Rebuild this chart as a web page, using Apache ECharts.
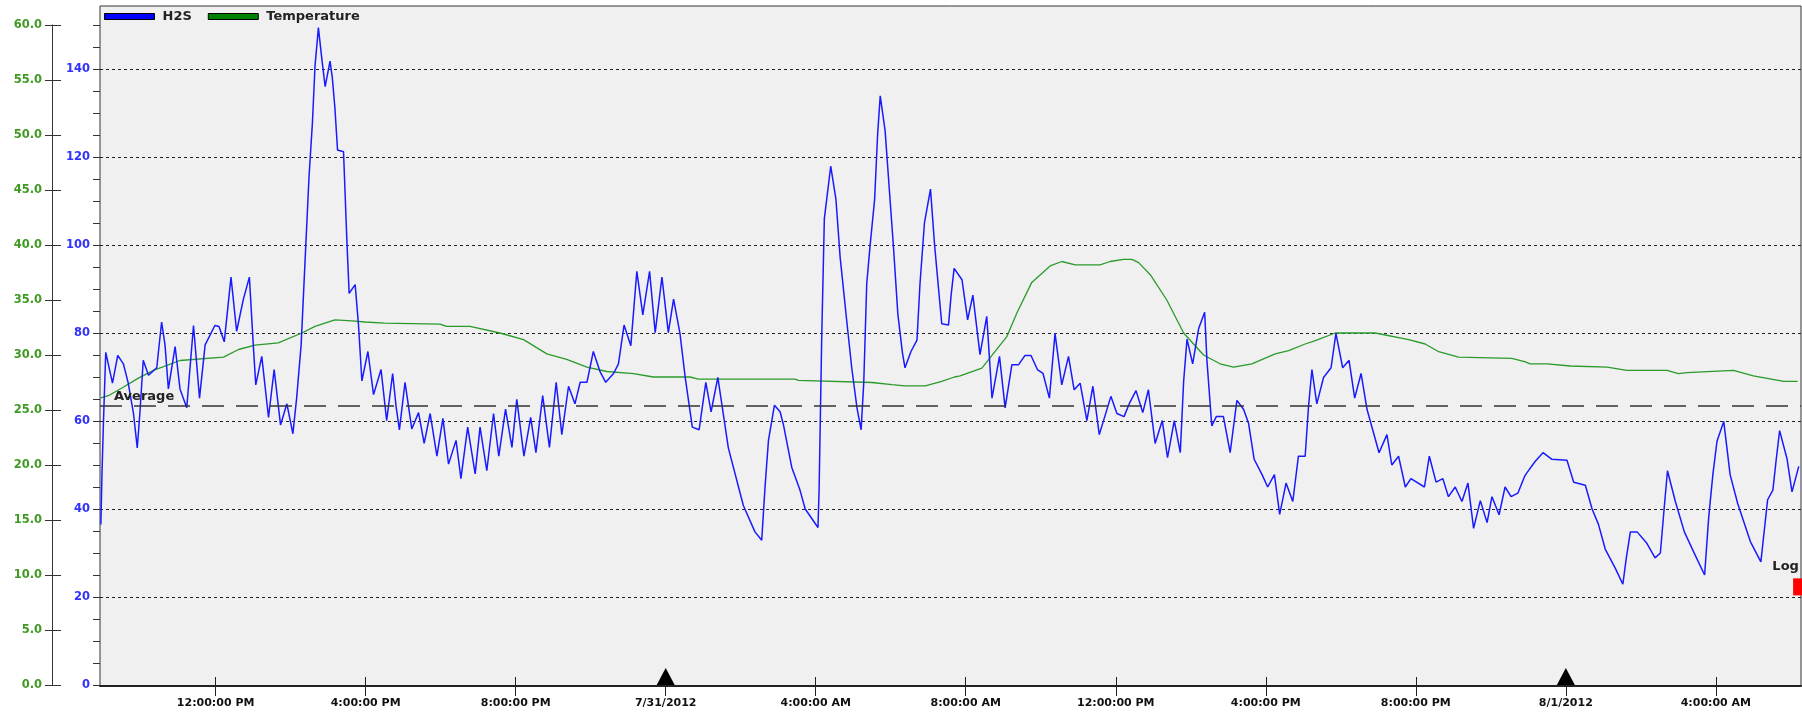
<!DOCTYPE html>
<html>
<head>
<meta charset="utf-8">
<title>H2S / Temperature</title>
<script src="https://cdn.jsdelivr.net/npm/echarts@6/dist/echarts.min.js"></script>
<style>
    html, body { margin: 0; padding: 0; background: #fff; }
    #main { width: 1802px; height: 717px; }
</style>
</head>
<body>
<div id="main"></div>
<script>
// time is in hours counted from 7/30/2012 00:00
var h2sData = [
    [8.94, 36.5], [8.97, 48], [9.01, 60], [9.07, 75.6], [9.25, 68.6], [9.39, 74.9], [9.54, 73], [9.67, 68.6],
    [9.81, 61.7], [9.91, 53.9], [9.98, 61.7], [10.07, 73.8], [10.21, 70.4], [10.43, 72.1], [10.56, 82.5],
    [10.65, 77.3], [10.74, 67.3], [10.92, 76.9], [11.05, 67.3], [11.23, 63.0], [11.41, 81.7], [11.57, 65.2],
    [11.72, 77.3], [11.98, 81.7], [12.09, 81.5], [12.23, 78.0], [12.41, 92.7], [12.56, 80.4], [12.74, 87.7],
    [12.90, 92.7], [13.01, 76.4], [13.07, 68.2], [13.23, 74.7], [13.41, 60.8], [13.56, 71.7], [13.73, 59.1],
    [13.90, 63.9], [14.06, 57.1], [14.16, 65.2], [14.28, 77.3], [14.38, 95.6], [14.49, 115.5], [14.58, 127.7],
    [14.65, 140.7], [14.74, 149.4], [14.83, 142.4], [14.92, 136.0], [15.05, 141.8], [15.11, 138.1], [15.18, 131.2],
    [15.25, 121.6], [15.41, 121.2], [15.50, 100.8], [15.56, 89.0], [15.72, 91.0], [15.81, 81.7], [15.90, 69.1],
    [16.06, 75.8], [16.21, 66.0], [16.41, 71.7],
    [16.56, 60.1], [16.72, 70.8], [16.81, 63.4], [16.90, 58.0], [17.05, 68.8], [17.23, 58.2], [17.41, 61.9],
    [17.56, 54.9], [17.72, 61.7], [17.90, 52.0], [18.06, 60.6], [18.21, 50.2], [18.41, 55.6], [18.54, 46.9],
    [18.72, 58.6], [18.92, 48.0], [19.05, 58.6], [19.23, 48.7], [19.41, 61.7], [19.55, 52.0], [19.73, 62.7],
    [19.90, 54.0], [20.03, 64.9], [20.22, 52.0], [20.40, 60.8], [20.54, 52.8], [20.72, 65.8], [20.90, 54.0],
    [21.08, 68.8], [21.23, 56.9], [21.41, 67.9], [21.58, 63.9], [21.72, 68.8], [21.90, 68.8], [22.07, 75.8],
    [22.25, 71.2], [22.40, 68.8], [22.61, 70.8], [22.74, 73.0], [22.89, 81.8], [23.07, 77.1], [23.23, 94.0],
    [23.39, 84.1], [23.57, 94.0], [23.72, 80.1], [23.90, 92.7], [24.07, 80.1],
    [24.21, 87.7], [24.38, 79.9], [24.52, 69.9], [24.71, 58.6], [24.89, 58.0], [25.07, 68.8], [25.21, 62.1],
    [25.39, 69.9], [25.67, 53.9], [26.07, 40.8], [26.38, 34.8], [26.56, 32.9], [26.65, 45.2], [26.74, 55.6],
    [26.90, 63.6], [27.05, 62.1], [27.14, 59.1], [27.36, 49.5], [27.58, 44.3], [27.72, 40.0], [28.06, 35.8],
    [28.09, 44.3], [28.16, 79.1], [28.23, 106.0], [28.40, 117.9], [28.54, 110.3], [28.65, 97.3], [28.83, 82.5],
    [28.96, 72.1], [29.10, 63.0], [29.21, 58.0], [29.28, 68.6], [29.36, 91.2], [29.45, 99.9], [29.57, 110.3],
    [29.65, 125.1], [29.72, 133.9], [29.85, 126.0], [29.96, 112.9], [30.07, 99.9], [30.19, 84.3], [30.31, 75.6],
    [30.38, 72.1], [30.54, 75.8], [30.70, 78.4], [30.78, 91.2], [30.90, 105.1], [31.06, 112.7], [31.17, 99.9],
    [31.36, 82.1], [31.54, 81.8], [31.61, 88.6], [31.69, 94.7],
    [31.90, 92.1], [32.05, 83.0], [32.19, 88.6], [32.38, 75.1], [32.56, 83.8], [32.70, 65.2], [32.90, 74.7],
    [33.05, 63.0], [33.23, 72.8], [33.41, 72.8], [33.58, 74.9], [33.74, 74.9], [33.91, 71.7], [34.06, 70.8],
    [34.23, 65.2], [34.38, 79.9], [34.56, 68.2], [34.74, 74.7], [34.89, 67.1], [35.05, 68.6], [35.23, 60.1],
    [35.39, 67.9], [35.56, 56.9], [35.87, 65.6], [36.03, 61.7], [36.22, 61.0], [36.38, 64.3], [36.54, 66.9],
    [36.72, 61.9], [36.87, 67.1], [37.05, 54.9], [37.24, 60.1], [37.38, 51.7], [37.56, 60.1], [37.72, 52.8],
    [37.81, 69.1], [37.90, 78.6], [38.05, 73.0], [38.21, 81.0], [38.37, 84.7], [38.43, 73.8], [38.56, 58.9],
    [38.68, 61.0], [38.87, 61.0], [39.05, 52.8], [39.23, 64.7],
    [39.41, 62.6], [39.54, 59.5], [39.69, 51.3], [39.90, 47.8], [40.05, 45.0], [40.23, 47.8], [40.37, 38.8],
    [40.54, 45.9], [40.72, 41.7], [40.87, 52.0], [41.05, 52.0], [41.14, 63.4], [41.23, 71.7], [41.36, 63.9],
    [41.54, 69.9], [41.74, 72.1], [41.87, 79.9], [42.05, 72.1], [42.22, 73.8], [42.37, 65.2], [42.54, 70.8],
    [42.70, 62.6], [43.02, 52.8], [43.23, 56.9], [43.36, 50.0], [43.54, 52.0], [43.72, 45.0], [43.87, 46.9],
    [44.23, 45.0], [44.36, 52.0], [44.54, 46.1], [44.72, 46.9], [44.87, 42.8], [45.05, 45.0], [45.23, 41.7],
    [45.39, 45.9], [45.54, 35.6], [45.72, 41.9], [45.90, 36.9], [46.03, 42.8], [46.22, 38.7], [46.38, 45.0],
    [46.54, 42.8], [46.72, 43.6], [46.90, 47.4],
    [46.96, 48.2], [47.18, 50.8], [47.39, 52.8], [47.63, 51.3], [48.03, 51.1], [48.21, 46.1], [48.52, 45.4],
    [48.70, 40.0], [48.87, 36.5], [49.05, 30.9], [49.32, 26.5], [49.52, 22.9], [49.61, 28.7], [49.72, 34.8],
    [49.90, 34.8], [50.16, 32.2], [50.38, 28.9], [50.52, 30.0], [50.62, 40.0], [50.71, 48.7], [50.92, 41.7],
    [51.16, 34.8], [51.41, 30.2], [51.70, 25.0], [51.81, 38.2], [51.92, 47.8], [52.03, 55.4], [52.21, 59.9],
    [52.38, 47.8], [52.58, 41.3], [52.92, 32.6], [53.20, 28.0], [53.38, 42.1], [53.52, 44.3], [53.61, 51.3],
    [53.70, 57.8], [53.90, 51.3], [54.03, 43.9], [54.21, 49.7]
];

var tempData = [
    [8.94, 26.1], [9.14, 26.3], [9.5, 27.0], [9.94, 27.9], [10.34, 28.6], [11.05, 29.5], [12.21, 29.8],
    [12.61, 30.5], [13.05, 30.9], [13.67, 31.1], [14.3, 32.0], [14.65, 32.6], [15.18, 33.2], [15.63, 33.1],
    [15.98, 33.0], [16.5, 32.9], [17.98, 32.8], [18.16, 32.6], [18.78, 32.6], [19.58, 32.0], [20.21, 31.4],
    [20.83, 30.1], [21.36, 29.6], [21.9, 28.9], [22.43, 28.5], [23.14, 28.3], [23.67, 28.0], [24.65, 28.0],
    [24.87, 27.8], [27.45, 27.8], [27.54, 27.7], [29.5, 27.5], [30.03, 27.3], [30.38, 27.2], [30.92, 27.2],
    [31.36, 27.6], [31.7, 28.0], [31.85, 28.1], [32.43, 28.8], [33.1, 31.7], [33.36, 33.8], [33.76, 36.6],
    [34.25, 38.1], [34.56, 38.5], [34.92, 38.2], [35.58, 38.2], [35.85, 38.5], [36.21, 38.7], [36.43, 38.7],
    [36.61, 38.4], [36.92, 37.3], [37.36, 35.0], [37.81, 32.0], [38.34, 30.0], [38.78, 29.2], [39.14, 28.9],
    [39.63, 29.2], [40.25, 30.1], [40.61, 30.4], [41.05, 31.0], [41.32, 31.3], [41.85, 32.0], [42.92, 32.0],
    [43.81, 31.4], [44.25, 31.0], [44.61, 30.3], [45.14, 29.8], [46.56, 29.7], [46.9, 29.4], [47.05, 29.2],
    [47.5, 29.2], [48.12, 29.0], [49.1, 28.9], [49.63, 28.6], [50.7, 28.6], [51.0, 28.3], [51.23, 28.4],
    [52.47, 28.6], [53.0, 28.1], [53.81, 27.6], [54.18, 27.6]
];

var h2sAverage = 63.4;
var timeStart = 8.917;   // 7/30/2012 ~8:55 AM
var timeEnd = 54.27;     // 8/1/2012 ~6:16 AM
var timeTicks = [12, 16, 20, 24, 28, 32, 36, 40, 44, 48, 52];
var timeLabels = ['12:00:00 PM', '4:00:00 PM', '8:00:00 PM', '7/31/2012', '4:00:00 AM', '8:00:00 AM',
    '12:00:00 PM', '4:00:00 PM', '8:00:00 PM', '8/1/2012', '4:00:00 AM'];
var dayMarks = [24, 48];
var logMark = [54.18, 22.3];

var font = "'DejaVu Sans', Verdana, sans-serif";

function timeLabel(v) {
    for (var i = 0; i < timeTicks.length; i++) {
        if (Math.abs(timeTicks[i] - v) < 1e-6) return timeLabels[i];
    }
    return '';
}

var chart = echarts.init(document.getElementById('main'));

chart.setOption({
    animation: false,
    textStyle: { fontFamily: font },
    legend: {
        data: ['H2S', 'Temperature'],
        left: 104,
        top: 10,
        icon: 'rect',
        itemWidth: 50,
        itemHeight: 6,
        itemGap: 16,
        padding: 0,
        itemStyle: { borderColor: '#000', borderWidth: 1 },
        textStyle: { fontFamily: font, fontWeight: 'bold', fontSize: 13, color: '#222', padding: [0, 0, 0, 3] }
    },
    grid: [
        // plot frame
        { left: 100, right: 1, top: 6, bottom: 31, show: true, backgroundColor: '#f0f0f0', borderColor: '#333', borderWidth: 1 },
        // data area (value axes run from 25 to 685 px)
        { left: 100, right: 1, top: 25, bottom: 32 }
    ],
    xAxis: [
        {
            gridIndex: 0, type: 'value', min: timeStart, max: timeEnd, position: 'bottom',
            axisLine: { lineStyle: { color: '#222', width: 2 } },
            axisTick: { customValues: timeTicks, length: 10, lineStyle: { color: '#222' } },
            axisLabel: {
                customValues: timeTicks, formatter: timeLabel, margin: 12,
                fontFamily: font, fontWeight: 'bold', fontSize: 11, color: '#111'
            },
            splitLine: { show: false }
        },
        {
            // ticks poking up into the plot
            gridIndex: 0, type: 'value', min: timeStart, max: timeEnd, position: 'bottom',
            axisLine: { show: false },
            axisTick: { customValues: timeTicks, inside: true, length: 9, lineStyle: { color: '#222' } },
            axisLabel: { show: false },
            splitLine: { show: false }
        },
        { gridIndex: 1, type: 'value', min: timeStart, max: timeEnd, show: false }
    ],
    yAxis: [
        { gridIndex: 0, type: 'value', min: 0, max: 1, show: false },
        {
            // H2S
            gridIndex: 1, type: 'value', min: 0, max: 150, interval: 5, position: 'left',
            axisLine: { show: false },
            axisTick: { show: true, length: 7, lineStyle: { color: '#333' } },
            axisLabel: {
                formatter: function (v) { return v % 20 === 0 ? String(v) : ''; },
                margin: 10, fontFamily: font, fontWeight: 'bold', fontSize: 11.5, color: '#3030ff'
            },
            splitLine: { show: false }
        },
        {
            // dashed grid lines every 20 ppm
            gridIndex: 1, type: 'value', min: 0, max: 150, interval: 20, position: 'left',
            axisLine: { show: false }, axisTick: { show: false }, axisLabel: { show: false },
            splitLine: {
                show: true, showMinLine: false, showMaxLine: false,
                lineStyle: { color: '#222', width: 1, type: [3, 3] }
            }
        },
        {
            // Temperature
            gridIndex: 1, type: 'value', min: 0, max: 60, interval: 5, position: 'left', offset: 48,
            axisLine: { show: true, lineStyle: { color: '#333', width: 1 } },
            axisTick: { show: true, length: 7, lineStyle: { color: '#333' } },
            axisLabel: {
                formatter: function (v) { return v.toFixed(1); },
                margin: 10, fontFamily: font, fontWeight: 'bold', fontSize: 11.5, color: '#3f9a22'
            },
            splitLine: { show: false }
        },
        {
            gridIndex: 1, type: 'value', min: 0, max: 60, interval: 5, position: 'left', offset: 48,
            axisLine: { show: false },
            axisTick: { show: true, inside: true, length: 9, lineStyle: { color: '#333' } },
            axisLabel: { show: false },
            splitLine: { show: false }
        }
    ],
    series: [
        {
            name: 'H2S', type: 'line', xAxisIndex: 2, yAxisIndex: 1,
            data: h2sData, showSymbol: false, color: '#0000ff',
            lineStyle: { color: '#1a1aff', width: 1.5 },
            z: 4,
            markLine: {
                silent: true, symbol: ['none', 'none'],
                data: [{ yAxis: h2sAverage }],
                lineStyle: { color: '#333', width: 1.5, type: [22, 12] },
                label: {
                    show: true, position: 'insideStartTop', formatter: 'Average', distance: [14, 3],
                    fontFamily: font, fontWeight: 'bold', fontSize: 13, color: '#222'
                }
            }
        },
        {
            name: 'Temperature', type: 'line', xAxisIndex: 2, yAxisIndex: 3,
            data: tempData, showSymbol: false, color: '#008000',
            lineStyle: { color: '#2a9a2a', width: 1.3 },
            z: 3
        },
        {
            name: 'Day', type: 'scatter', xAxisIndex: 2, yAxisIndex: 1,
            data: dayMarks.map(function (d) { return [d, 0]; }),
            symbol: 'triangle', symbolSize: [18, 17], symbolOffset: [0, -8.5],
            itemStyle: { color: '#000', opacity: 1 }, silent: true, z: 5
        },
        {
            name: 'Log', type: 'scatter', xAxisIndex: 2, yAxisIndex: 1,
            data: [logMark],
            symbol: 'rect', symbolSize: [9, 17],
            itemStyle: { color: '#ff0000', opacity: 1 }, silent: true, z: 5,
            label: {
                show: true, position: 'top', distance: 5, offset: [-12, 0], formatter: 'Log',
                fontFamily: font, fontWeight: 'bold', fontSize: 13, color: '#222'
            }
        }
    ]
});
</script>
</body>
</html>
